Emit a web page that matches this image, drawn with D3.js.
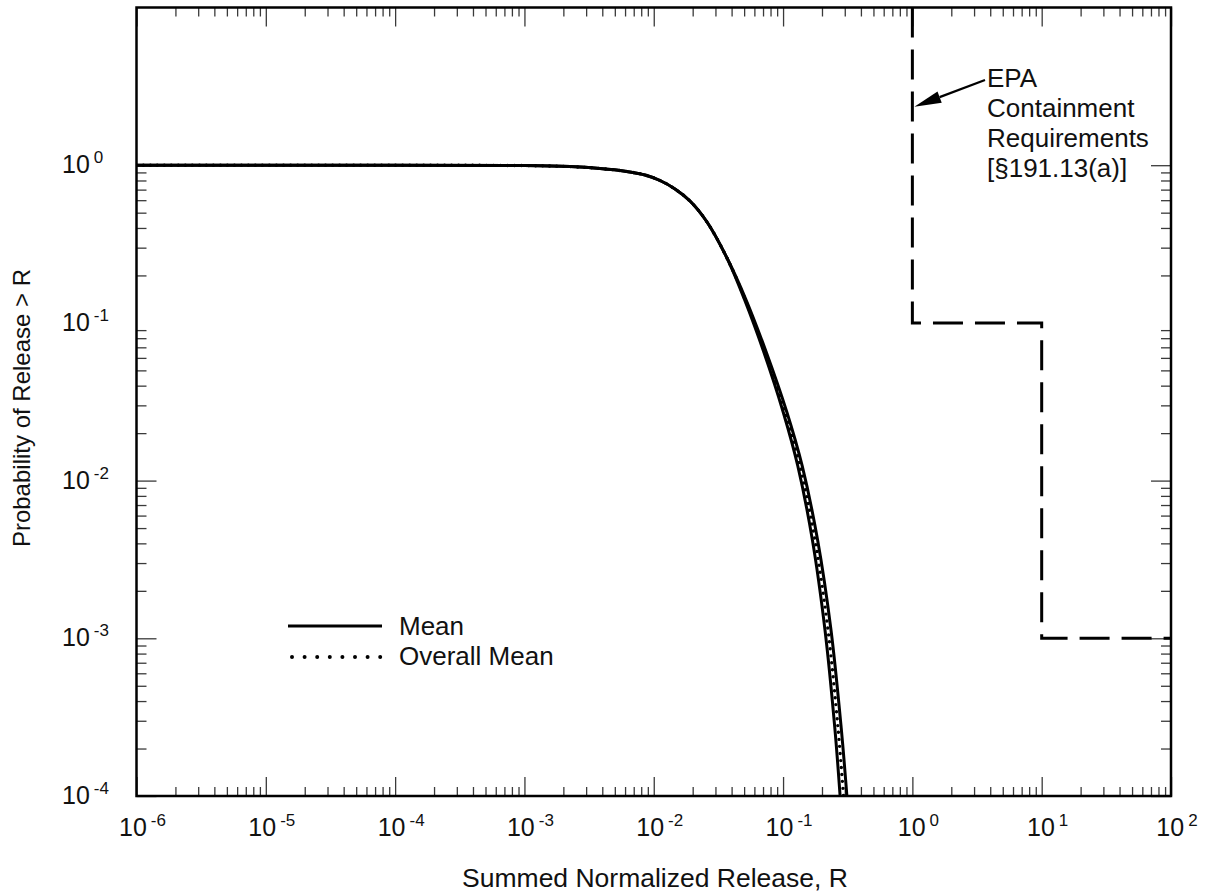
<!DOCTYPE html>
<html>
<head>
<meta charset="utf-8">
<script src="https://cdn.jsdelivr.net/npm/d3@7"></script>
<style>
  html, body { margin: 0; padding: 0; background: #fff; }
  text { font-family: "Liberation Sans", Arial, Helvetica, sans-serif; fill: #111; }
</style>
</head>
<body>
<svg id="chart" width="1213" height="893"></svg>
<script>
// Exceedance probability levels shared by all CCDF curves
const probLevels = [1.0, 1.0, 0.9942, 0.9798, 0.9530, 0.9162, 0.8666, 0.7999, 0.7066, 0.5929, 0.4363, 0.2579, 0.1418, 0.06537, 0.02723, 0.01238, 0.004201, 0.001129, 0.000270, 0.0001];

// Summed normalized release at each level: replicate means (solid) and the overall mean (dotted)
const meanReleaseA = [1e-6, 1e-4, 0.001, 0.002251, 0.003840, 0.005993, 0.008556, 0.011176, 0.014599, 0.01907, 0.02581, 0.03685, 0.05014, 0.07096, 0.1002, 0.1300, 0.1686, 0.2110, 0.2513, 0.2762];
const meanReleaseB = [1e-6, 1e-4, 0.001, 0.002251, 0.003840, 0.005993, 0.008556, 0.011176, 0.014599, 0.01907, 0.02581, 0.03685, 0.05141, 0.07406, 0.1069, 0.1406, 0.1850, 0.2348, 0.2816, 0.3117];
const overallMeanRelease = [1e-6, 1e-4, 0.001, 0.002251, 0.003840, 0.005993, 0.008556, 0.011176, 0.014599, 0.01907, 0.02581, 0.03685, 0.05077, 0.07249, 0.1035, 0.1352, 0.1766, 0.2226, 0.2660, 0.2934];

// EPA containment requirement (step limits)
const epaRelease = [1, 1, 10, 100];
const epaProb = [10, 0.1, 0.001, 0.001];

// Axis decades
const xTickExponents = [-6, -5, -4, -3, -2, -1, 0, 1, 2];
const yTickExponents = [-4, -3, -2, -1, 0];

// Text
const xTitle = "Summed Normalized Release, R";
const yTitle = "Probability of Release > R";
const legendLabels = ["Mean", "Overall Mean"];
const epaNote = ["EPA", "Containment", "Requirements", "[§191.13(a)]"];
// Point on the EPA line that the note's arrow indicates
const epaArrowTarget = { r: 1, p: 2.35 };

const svg = d3.select("#chart");
svg.append("rect").attr("width", 1213).attr("height", 893).attr("fill", "#fff");

const plot = { left: 136.5, right: 1171, top: 7.5, bottom: 796 };

const x = d3.scaleLog().domain([1e-6, 1e2]).range([plot.left, plot.right]);
const y = d3.scaleLog().domain([1e-4, 1e1]).range([plot.bottom, plot.top]);

svg.append("clipPath").attr("id", "plotClip")
  .append("rect")
  .attr("x", plot.left).attr("y", plot.top)
  .attr("width", plot.right - plot.left).attr("height", plot.bottom - plot.top);

// ---- ticks (inward on all four sides) ----
const isDecade = v => Math.abs(Math.log10(v) - Math.round(Math.log10(v))) < 1e-9;
const xAll = x.ticks();
const xMajor = xAll.filter(isDecade);
const xMinor = xAll.filter(v => !isDecade(v));
const yAll = y.ticks().filter(v => v <= 1 + 1e-12);
const yMajor = yAll.filter(v => isDecade(v) && Math.round(Math.log10(v)) !== -1);
const yMinor = yAll.filter(v => !isDecade(v));

function styleTicks(g) {
  g.select(".domain").remove();
  g.selectAll(".tick line").attr("stroke", "#3a3a3a").attr("stroke-width", 1.3);
  g.selectAll(".tick text").remove();
}

[[xMinor, 9], [xMajor, 19]].forEach(([vals, len]) => {
  svg.append("g").attr("transform", `translate(0,${plot.bottom})`)
    .call(d3.axisBottom(x).tickValues(vals).tickSize(-len).tickFormat(""))
    .call(styleTicks);
  svg.append("g").attr("transform", `translate(0,${plot.top})`)
    .call(d3.axisTop(x).tickValues(vals).tickSize(-len).tickFormat(""))
    .call(styleTicks);
});
[[yMinor, 10], [yMajor, 20]].forEach(([vals, len]) => {
  svg.append("g").attr("transform", `translate(${plot.left},0)`)
    .call(d3.axisLeft(y).tickValues(vals).tickSize(-len).tickFormat(""))
    .call(styleTicks);
  svg.append("g").attr("transform", `translate(${plot.right},0)`)
    .call(d3.axisRight(y).tickValues(vals).tickSize(-len).tickFormat(""))
    .call(styleTicks);
});

// ---- tick labels as 10 with superscript exponent ----
function powerLabel(sel, exp, baseSize, supSize, rise, gap) {
  sel.append("tspan").attr("font-size", baseSize).text("10");
  sel.append("tspan").attr("font-size", supSize).attr("dx", gap).attr("dy", -rise)
    .text(exp < 0 ? "-" + Math.abs(exp) : String(exp));
}
xTickExponents.forEach(e => {
  const t = svg.append("text")
    .attr("x", x(Math.pow(10, e)) + 6)
    .attr("y", 836)
    .attr("text-anchor", "middle");
  powerLabel(t, e, 25, 17, 10, 4);
});
yTickExponents.forEach(e => {
  const t = svg.append("text")
    .attr("x", 62)
    .attr("y", y(Math.pow(10, e)) + 8)
    .attr("text-anchor", "start");
  powerLabel(t, e, 25, 17, 10, 4);
});

// ---- axis titles ----
svg.append("text").attr("x", 655).attr("y", 887).attr("text-anchor", "middle")
  .attr("font-size", 26.5).text(xTitle);
svg.append("text").attr("transform", "translate(30,408) rotate(-90)")
  .attr("text-anchor", "middle").attr("font-size", 24).text(yTitle);

// ---- curves ----
const curveGroup = svg.append("g").attr("clip-path", "url(#plotClip)");
const line = d3.line()
  .x(d => x(d[0]))
  .y(d => y(d[1]))
  .curve(d3.curveCatmullRom.alpha(0.5));

const toPoints = rel => rel.map((r, i) => [r, probLevels[i]]);

[meanReleaseA, meanReleaseB].forEach(rel => {
  curveGroup.append("path")
    .attr("d", line(toPoints(rel)))
    .attr("fill", "none").attr("stroke", "#000")
    .attr("stroke-width", 3).attr("stroke-linejoin", "round");
});
curveGroup.append("path")
  .attr("d", line(toPoints(overallMeanRelease)))
  .attr("fill", "none").attr("stroke", "#000")
  .attr("stroke-width", 3.4).attr("stroke-linecap", "round")
  .attr("stroke-dasharray", "0,7");

// ---- EPA step limit ----
const epaLine = d3.line()
  .x(d => x(d[0]))
  .y(d => y(d[1]))
  .curve(d3.curveStepAfter);
curveGroup.append("path")
  .attr("d", epaLine(epaRelease.map((r, i) => [r, epaProb[i]])))
  .attr("fill", "none").attr("stroke", "#000")
  .attr("stroke-width", 3).attr("stroke-dasharray", "30,12");

// ---- plot frame ----
svg.append("rect")
  .attr("x", plot.left).attr("y", plot.top)
  .attr("width", plot.right - plot.left).attr("height", plot.bottom - plot.top)
  .attr("fill", "none").attr("stroke", "#000").attr("stroke-width", 2.5);

// ---- EPA note with arrow ----
const tip = [x(epaArrowTarget.r) + 2, y(epaArrowTarget.p)];
const tail = [985, 80];
const dxA = tail[0] - tip[0], dyA = tail[1] - tip[1];
const len = Math.hypot(dxA, dyA);
const ux = dxA / len, uy = dyA / len;
const headLen = 27, headHalf = 6;
const base = [tip[0] + ux * headLen, tip[1] + uy * headLen];
svg.append("line")
  .attr("x1", base[0]).attr("y1", base[1]).attr("x2", tail[0]).attr("y2", tail[1])
  .attr("stroke", "#000").attr("stroke-width", 2.2);
svg.append("path")
  .attr("d", `M${tip[0]},${tip[1]}L${base[0] - uy * headHalf},${base[1] + ux * headHalf}L${base[0] + uy * headHalf},${base[1] - ux * headHalf}Z`)
  .attr("fill", "#000");

const note = svg.append("text").attr("font-size", 26);
epaNote.forEach((s, i) => {
  note.append("tspan").attr("x", 987).attr("y", 87 + i * 30).text(s);
});

// ---- legend ----
const legend = svg.append("g");
legend.append("line").attr("x1", 288).attr("x2", 382).attr("y1", 626).attr("y2", 626)
  .attr("stroke", "#000").attr("stroke-width", 3);
legend.append("line").attr("x1", 292).attr("x2", 381).attr("y1", 657).attr("y2", 657)
  .attr("stroke", "#000").attr("stroke-width", 4).attr("stroke-linecap", "round")
  .attr("stroke-dasharray", "0,12.6");
legendLabels.forEach((s, i) => {
  legend.append("text").attr("x", 399).attr("y", 635 + i * 30)
    .attr("font-size", 26).text(s);
});
</script>
</body>
</html>
